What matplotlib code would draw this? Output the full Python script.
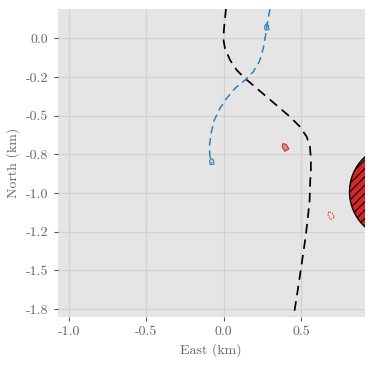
import matplotlib
matplotlib.use('Agg')
import matplotlib.pyplot as plt
import numpy as np
from matplotlib.patches import Circle, Polygon

plt.rcParams['font.family'] = 'serif'
plt.rcParams['font.serif'] = ['cmr10']
plt.rcParams['mathtext.fontset'] = 'cm'
plt.rcParams['axes.formatter.use_mathtext'] = True
plt.rcParams['hatch.linewidth'] = 0.8

# Own ship track (black), km
own_east = [0.015, 0.004, -0.003, 0.008, 0.041, 0.084, 0.138, 0.202, 0.278, 0.353, 0.429,
            0.493, 0.537, 0.558, 0.564, 0.564, 0.560, 0.556, 0.543, 0.527, 0.508, 0.489,
            0.469, 0.452]
own_north = [0.194, 0.086, 0.0, -0.065, -0.140, -0.205, -0.259, -0.313, -0.378, -0.442, -0.507,
             -0.571, -0.636, -0.701, -0.776, -0.862, -0.916, -1.045, -1.175, -1.304, -1.433,
             -1.563, -1.692, -1.80]

# Target track (blue)
tgt_east = [0.299, 0.284, 0.271, 0.256, 0.230, 0.191, 0.138, 0.073, 0.019, -0.024, -0.061,
            -0.082, -0.093, -0.089, -0.078]
tgt_north = [0.189, 0.107, 0.021, -0.065, -0.151, -0.216, -0.270, -0.323, -0.388, -0.452,
             -0.528, -0.614, -0.701, -0.765, -0.808]

# Ship markers: east, north, heading (deg from east, ccw)
blue_ships = [(0.278, 0.075, 95), (-0.078, -0.795, 100)]
red_ship_now = (0.396, -0.701, 120)
red_ship_next = (0.692, -1.142, 120)

# Obstacle circle
obs_center = (1.119, -0.992)
obs_radius = 0.305

yticks = [0.0, -0.25, -0.5, -0.75, -1.0, -1.25, -1.5, -1.75]
ytick_labels = ['0.0', '-0.2', '-0.5', '-0.8', '-1.0', '-1.2', '-1.5', '-1.8']
xticks = [-1.0, -0.5, 0.0, 0.5]
xtick_labels = ['-1.0', '-0.5', '0.0', '0.5']


def ship_shape(e, n, heading, length=0.05, width=0.03):
    base = np.array([[length / 2, 0], [length / 6, width / 2], [-length / 2, width / 2],
                     [-length / 2, -width / 2], [length / 6, -width / 2]])
    a = np.deg2rad(heading)
    rot = np.array([[np.cos(a), -np.sin(a)], [np.sin(a), np.cos(a)]])
    return base @ rot.T + np.array([e, n])


fig = plt.figure(figsize=(3.74, 3.65), dpi=100)
ax = fig.add_axes([0.154, 0.132, 0.821, 0.843])
ax.set_facecolor('#E5E5E5')
for s in ax.spines.values():
    s.set_visible(False)
ax.grid(True, color='#D2D2D2', linewidth=0.9)
ax.set_axisbelow(True)

ax.plot(own_east, own_north, color='black', linestyle=(0, (5.5, 3.5)), linewidth=1.25)
ax.plot(tgt_east, tgt_north, color='#2b83ba', linestyle=(0, (5, 3)), linewidth=1.1)

for e, n, h in blue_ships:
    ax.add_patch(Polygon(ship_shape(e, n, h, 0.04, 0.025), closed=True,
                         facecolor='#d0dce8', edgecolor='#2b83ba', linewidth=0.8))
ax.add_patch(Polygon(ship_shape(*red_ship_now), closed=True,
                     facecolor='#a0a0a0', edgecolor='#ee3333', linewidth=0.9))
ax.add_patch(Polygon(ship_shape(*red_ship_next), closed=True, facecolor='none',
                     edgecolor='#ee4444', linewidth=0.8, linestyle=(0, (1.5, 1))))

ax.add_patch(Circle(obs_center, obs_radius, facecolor='#d62728', edgecolor='black',
                    linewidth=1.0, hatch='////'))

ax.set_xlim(-1.075, 0.912)
ax.set_ylim(-1.80, 0.189)
ax.set_xticks(xticks)
ax.set_xticklabels(xtick_labels)
ax.set_yticks(yticks)
ax.set_yticklabels(ytick_labels)
ax.tick_params(colors='#555555', labelcolor='#666666', length=3, width=0.8, labelsize=10)
ax.set_xlabel('East (km)', color='#666666', fontsize=10)
ax.set_ylabel('North (km)', color='#666666', fontsize=10)

fig.savefig('out.png', dpi=100)
